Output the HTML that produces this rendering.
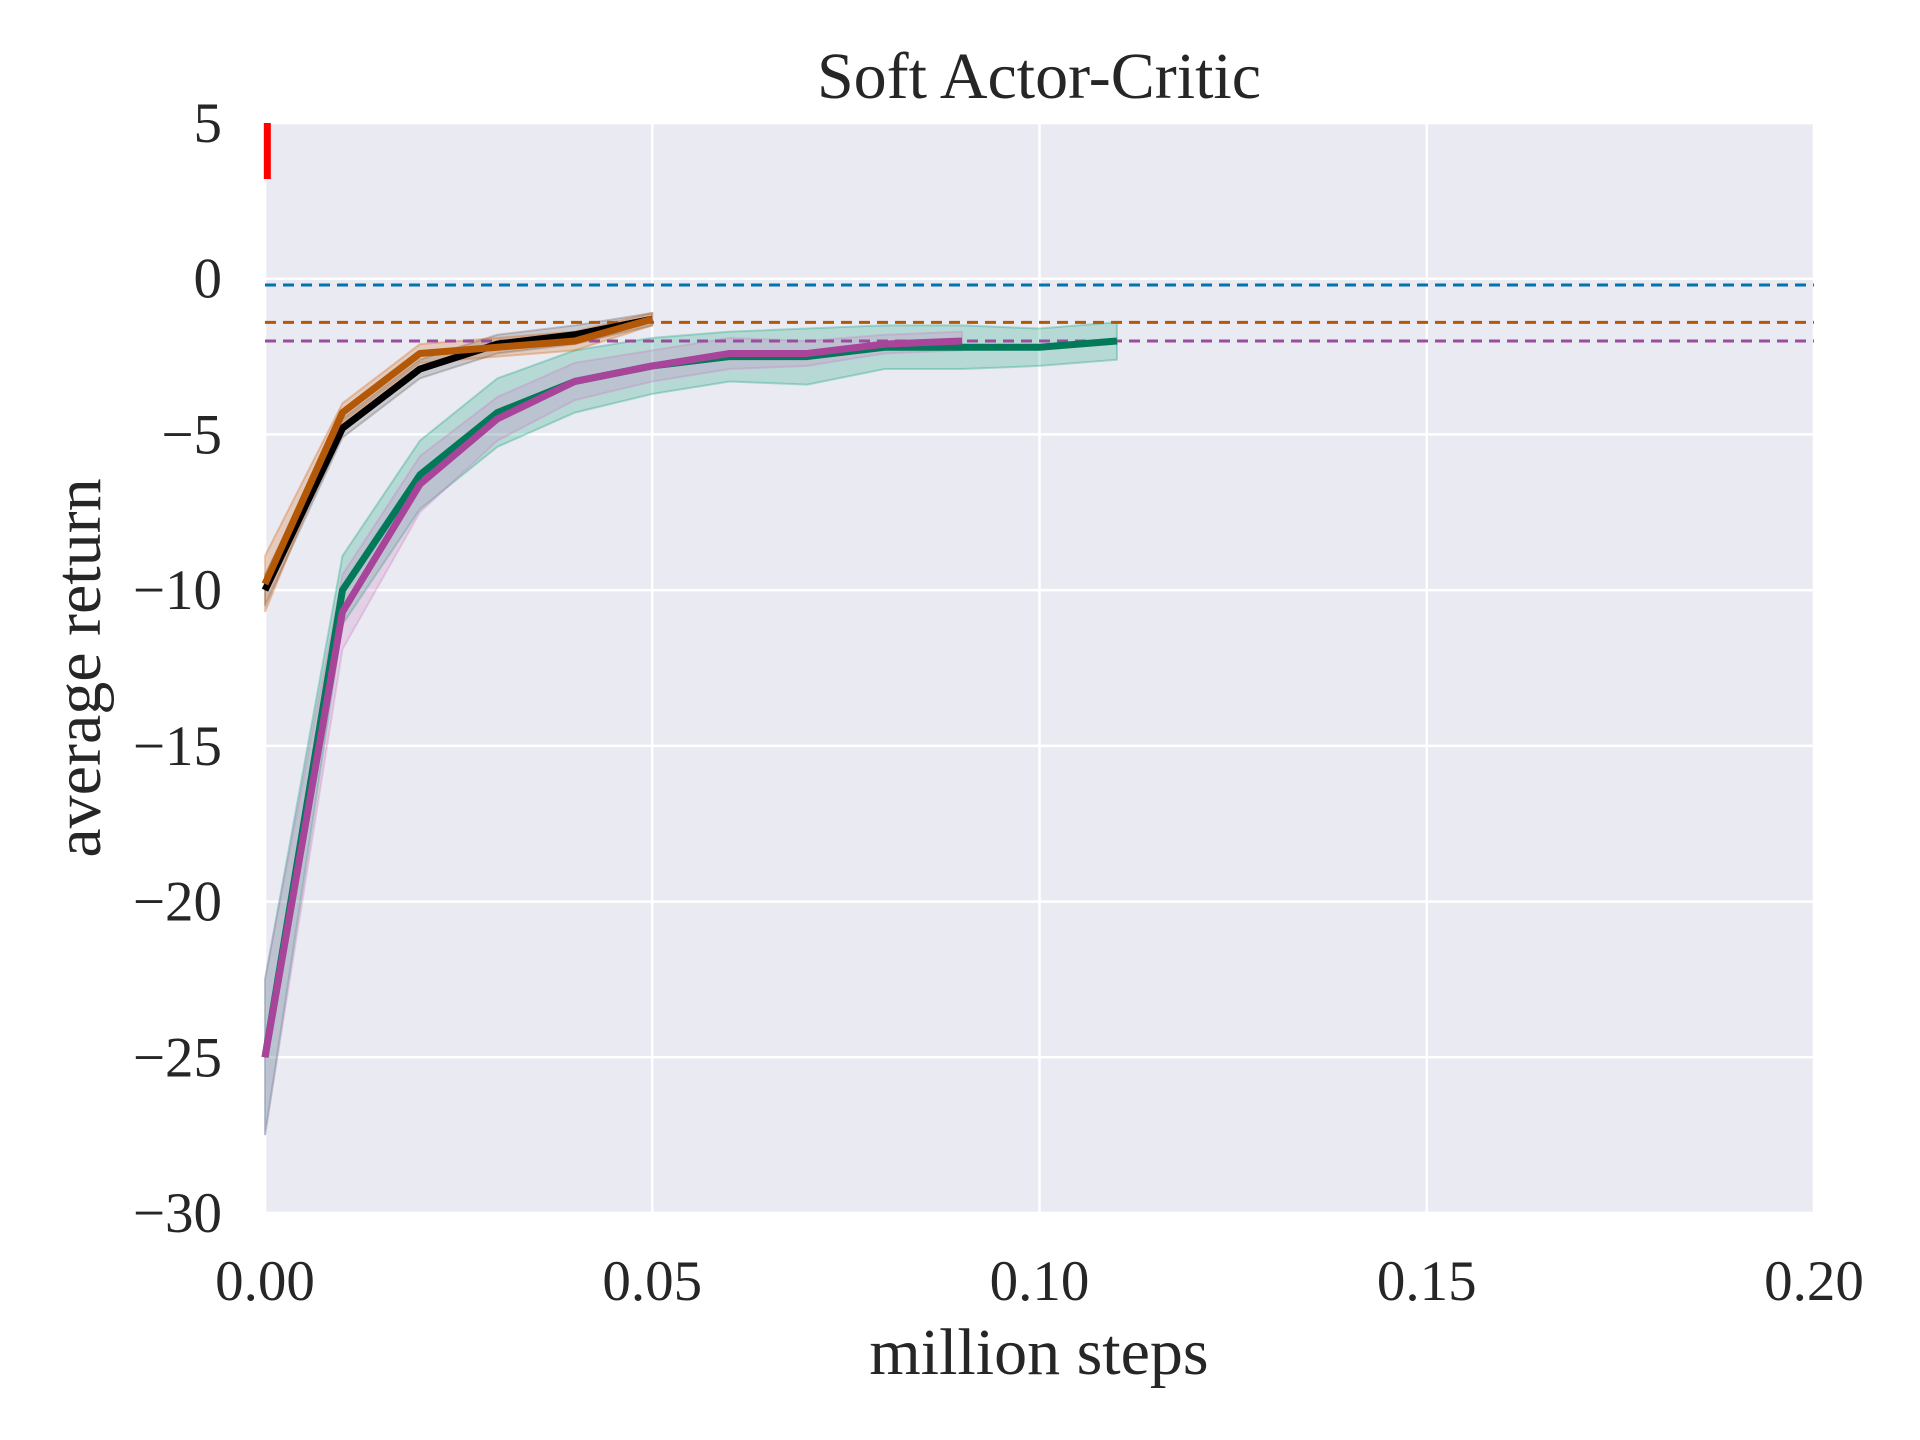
<!DOCTYPE html>
<html><head><meta charset="utf-8"><style>
html,body{margin:0;padding:0;background:#fff;}
svg{display:block;font-family:"Liberation Serif",serif;}
</style></head><body>
<svg id="chart" width="1920" height="1440" xmlns="http://www.w3.org/2000/svg">
<rect x="265" y="123" width="1549" height="1090" fill="#eaeaf2"/>
<g id="grid"></g>
<g id="bands"></g>
<g id="lines"></g>
<g id="ticks"></g>
<text x="1039" y="98" font-size="66" text-anchor="middle" fill="#262626">Soft Actor-Critic</text>
<text x="1039" y="1374" font-size="66" text-anchor="middle" fill="#262626">million steps</text>
<text transform="translate(100,668) rotate(-90)" font-size="66" text-anchor="middle" fill="#262626">average return</text>
</svg>
<script>
const xTicks=[0,0.05,0.10,0.15,0.20];
const xTickLabels=["0.00","0.05","0.10","0.15","0.20"];
const yTicks=[5,0,-5,-10,-15,-20,-25,-30];
const yTickLabels=["5","0","\u22125","\u221210","\u221215","\u221220","\u221225","\u221230"];
const stepsShort=[0,0.01,0.02,0.03,0.04,0.05];
const blackMean=[-10,-4.8,-2.9,-2.1,-1.8,-1.3];
const blackSpread=[0.5,0.3,0.3,0.3,0.3,0.2];
const orangeMean=[-9.8,-4.3,-2.4,-2.2,-2.0,-1.3];
const orangeSpread=[0.9,0.3,0.3,0.3,0.3,0.2];
const stepsGreen=[0,0.01,0.02,0.03,0.04,0.05,0.06,0.07,0.08,0.09,0.10,0.11];
const greenMean=[-25,-10,-6.3,-4.3,-3.3,-2.8,-2.5,-2.5,-2.2,-2.2,-2.2,-2.0];
const greenSpread=[2.5,1.1,1.1,1.1,1.0,0.9,0.8,0.9,0.7,0.7,0.6,0.6];
const stepsMagenta=[0,0.01,0.02,0.03,0.04,0.05,0.06,0.07,0.08,0.09];
const magentaMean=[-25,-10.7,-6.6,-4.5,-3.3,-2.8,-2.4,-2.4,-2.1,-2.0];
const magentaSpread=[2.5,1.2,0.9,0.7,0.6,0.5,0.5,0.4,0.3,0.3];
const refLevels=[-0.2,-1.4,-2.0];
const refColors=["#0173b2","#b35806","#9c4c9f"];
const redX=[0.0003,0.0003];
const redY=[5,3.2];

const X=v=>265+v/0.2*1549;
const Y=v=>123+(5-v)/35*1090;
const NS="http://www.w3.org/2000/svg";
function mk(tag,attrs,parent){const e=document.createElementNS(NS,tag);for(const k in attrs)e.setAttribute(k,attrs[k]);document.getElementById(parent).appendChild(e);return e;}

xTicks.forEach((t,i)=>{
  const l=mk('line',{x1:X(t),x2:X(t),y1:123,y2:1213,stroke:'#fff','stroke-width':2.5},'grid');
  
  
  const tx=mk('text',{x:X(t),y:1300,'font-size':57,'text-anchor':'middle',fill:'#262626'},'ticks');
  tx.textContent=xTickLabels[i];
  
  
});
yTicks.forEach((t,i)=>{
  const l=mk('line',{x1:265,x2:1814,y1:Y(t),y2:Y(t),stroke:'#fff','stroke-width':2.5},'grid');
  
  
  const tx=mk('text',{x:222,y:Y(t)+19,'font-size':57,'text-anchor':'end',fill:'#262626'},'ticks');
  tx.textContent=yTickLabels[i];
  
  
});
function band(xs,m,s,color,name){
  let up=xs.map((x,i)=>X(x)+','+Y(m[i]+s[i]));
  let dn=xs.map((x,i)=>X(x)+','+Y(m[i]-s[i])).reverse();
  const p=mk('polygon',{points:up.concat(dn).join(' '),fill:color,'fill-opacity':0.22,stroke:color,'stroke-opacity':0.3,'stroke-width':2},'bands');
  
  
}
function line(xs,m,color,w,name){
  const p=mk('polyline',{points:xs.map((x,i)=>X(x)+','+Y(m[i])).join(' '),fill:'none',stroke:color,'stroke-width':w,'stroke-linejoin':'round'},'lines');
  
  
}
band(stepsGreen,greenMean,greenSpread,'#029e73','green-band');
band(stepsMagenta,magentaMean,magentaSpread,'#cc78bc','magenta-band');
band(stepsShort,blackMean,blackSpread,'#555','black-band');
band(stepsShort,orangeMean,orangeSpread,'#d55e00','orange-band');
refLevels.forEach((v,i)=>{
  const l=mk('line',{x1:265,x2:1814,y1:Y(v),y2:Y(v),stroke:refColors[i],'stroke-width':3,'stroke-dasharray':'11,7'},'lines');
  
  
});
line(stepsGreen,greenMean,'#027a5a',7,'green-series');
line(stepsMagenta,magentaMean,'#a8449a',7,'magenta-series');
line(stepsShort,blackMean,'#000',7,'black-series');
line(stepsShort,orangeMean,'#b35806',7,'orange-series');
line(redX,redY,'#ff0000',7,'red-series');
</script>
</body></html>
